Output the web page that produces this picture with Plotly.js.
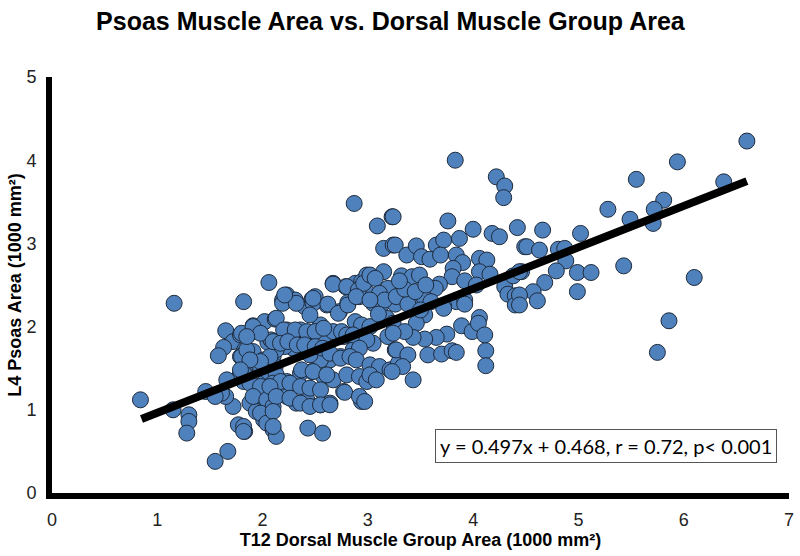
<!DOCTYPE html>
<html>
<head>
<meta charset="utf-8">
<script src="https://cdn.plot.ly/plotly-3.0.1.min.js"></script>
<style>html,body{margin:0;padding:0;background:#fff;}#chart{width:800px;height:556px;}</style>
</head>
<body>
<div id="chart"></div>
<script>
// T12 dorsal muscle group area (1000 mm²)
var dorsalArea = [
0.84,1.16,1.15,1.30,1.30,1.28,1.46,1.55,1.67,
2.06,1.82,2.20,1.65,1.72,1.63,1.58,1.79,1.88,1.91,2.02,2.12,
1.83,1.91,1.79,2.05,2.01,2.10,1.83,1.79,1.66,1.61,1.72,1.65,
1.77,1.83,1.88,1.98,2.05,2.12,2.13,2.01,1.94,2.01,2.05,
1.98,2.05,2.12,2.13,1.82,1.82,1.61,1.55,1.80,1.80,1.85,
2.23,2.31,2.19,2.40,2.47,2.50,2.67,2.79,2.88,2.94,2.99,2.61,2.73,2.89,2.92,3.00,
1.91,2.23,2.36,2.55,2.58,2.43,2.08,1.98,1.85,
2.67,2.77,2.86,2.92,2.74,2.64,2.55,2.45,2.37,2.29,2.21,2.13,2.07,1.98,1.88,1.79,
1.88,1.98,2.10,2.23,2.36,2.47,2.58,2.67,2.80,2.92,2.99,
1.91,2.04,2.10,2.23,2.32,2.42,2.55,2.64,2.77,2.94,
1.98,2.04,2.10,2.13,1.82,1.82,
2.19,2.32,2.48,2.62,2.81,3.05,3.14,3.26,
2.45,2.72,2.88,2.94,3.02,3.18,3.24,2.13,
2.20,2.31,2.42,2.50,2.58,2.75,2.80,2.86,3.05,2.99,2.92,3.19,3.26,
2.10,2.17,2.24,2.33,2.40,2.50,2.57,
2.64,2.74,2.83,2.89,3.02,3.11,3.21,3.29,3.02,3.08,
2.37,2.48,2.61,2.17,2.26,2.36,2.45,2.55,2.07,2.13,
2.26,2.36,2.45,2.55,2.64,2.78,2.92,2.97,
2.10,2.10,2.43,2.57,
2.87,3.09,3.23,3.15,3.24,
2.67,2.80,2.91,2.96,3.02,3.15,3.07,3.19,3.11,3.16,
2.21,2.48,2.81,2.89,3.02,
3.83,4.22,4.30,4.29,3.24,3.76,4.00,4.18,4.25,4.42,4.49,
3.26,3.37,3.46,3.65,3.72,3.87,3.51,3.59,3.69,3.84,3.90,4.06,4.13,
3.81,4.06,4.16,3.32,3.42,3.49,3.80,3.92,3.68,3.64,4.03,4.30,4.38,4.46,
4.33,4.40,4.40,3.27,3.40,3.53,3.84,3.92,3.72,
3.92,3.72,3.54,3.46,3.38,3.89,3.99,4.06,4.05,4.11,4.12,4.12,
3.75,3.65,3.54,3.43,3.35,3.24,3.27,3.38,3.33,3.23,3.57,3.70,3.80,3.84,3.43,
3.35,3.45,3.55,3.30,3.60,3.10,3.50,
6.60,5.94,5.55,6.38,5.81,5.72,5.71,5.28,5.49,5.02,4.66,4.51,4.63,4.81,4.87,4.88,4.79,4.99,5.12,5.43,
4.68,4.57,4.61,4.99,4.44,4.44,4.44,6.10,5.86,5.75
];
// L4 psoas area (1000 mm²)
var psoasArea = [
1.12,2.28,1.00,0.94,0.86,0.72,1.22,0.38,0.50,
2.53,2.30,2.32,1.95,1.82,1.75,1.65,1.90,1.92,2.01,2.06,2.09,
1.72,1.70,1.64,1.81,1.60,1.64,1.46,1.43,1.36,1.18,1.04,1.16,
0.82,0.74,1.08,1.16,1.24,1.18,1.32,1.32,0.98,0.88,0.84,
1.52,1.46,1.52,1.42,1.44,1.34,1.20,1.16,1.92,1.64,1.72,
2.38,2.32,2.32,2.24,2.33,2.36,2.52,2.48,2.52,2.54,2.62,2.26,2.18,2.44,2.36,2.40,
2.00,1.96,1.96,2.02,1.88,1.86,1.84,1.92,1.88,
1.94,1.88,1.72,1.92,1.64,1.60,1.60,1.66,1.72,1.74,1.76,1.72,1.64,1.58,1.60,1.48,
1.32,1.28,1.32,1.34,1.44,1.46,1.40,1.36,1.42,1.40,1.34,
1.16,1.12,1.04,1.16,1.08,1.12,1.06,1.08,1.22,1.10,
0.96,0.84,0.76,0.68,0.80,0.74,
2.28,2.28,2.28,2.27,2.29,2.28,2.28,2.27,
2.14,2.16,2.06,2.02,2.00,2.10,2.04,2.10,
1.96,1.96,1.94,1.94,1.98,1.94,1.90,1.90,1.80,1.84,1.74,1.88,1.72,
1.82,1.80,1.82,1.78,1.78,1.76,1.74,
1.68,1.62,1.64,1.60,1.54,1.52,1.48,1.56,1.42,1.36,
1.48,1.46,1.42,1.34,1.32,1.28,1.26,1.24,1.28,1.16,
1.14,1.08,1.04,1.06,1.06,1.21,1.16,1.10,
0.98,0.80,0.78,0.72,
3.48,3.21,3.32,2.94,2.98,
2.51,2.48,2.44,2.52,2.62,2.66,2.58,2.46,2.40,2.32,
2.38,2.34,2.26,2.36,2.32,
4.00,3.80,3.69,3.55,3.32,3.27,3.17,3.12,3.08,3.19,2.96,
2.98,2.86,2.97,2.98,3.04,3.06,2.84,2.81,2.86,2.86,2.77,2.82,2.80,
2.70,2.66,2.63,2.61,2.60,2.62,2.60,2.55,2.51,2.46,2.50,2.48,2.61,2.66,
2.39,2.37,2.26,2.36,2.30,2.36,2.30,2.32,2.25,
2.27,2.22,2.14,2.04,2.27,2.01,1.94,2.11,2.04,1.90,1.71,1.53,
1.91,1.87,1.85,1.87,1.94,1.92,1.72,1.66,1.52,1.46,1.66,1.67,1.71,1.69,1.36,
2.45,2.42,2.50,2.55,2.30,2.15,2.20,
4.23,3.98,3.77,3.74,3.52,3.41,3.24,3.41,3.29,3.12,3.16,2.96,2.92,2.93,2.94,2.79,2.67,2.65,2.65,2.73,
2.53,2.42,2.31,2.42,2.38,2.26,2.66,2.59,2.07,1.69
];
// Regression fit reported in the chart
var fitSlope = 0.497, fitIntercept = 0.468;
var fitX = [0.85, 6.6];
var fitY = fitX.map(function(v){ return fitSlope * v + fitIntercept; });

var xTicks = [0,1,2,3,4,5,6,7];
var yTicks = [0,1,2,3,4,5];

var sans = '"Liberation Sans", Arial, sans-serif';

var traces = [
  {
    type: 'scatter', mode: 'markers',
    x: dorsalArea, y: psoasArea,
    marker: {size: 16, color: '#4F81BD', line: {color: '#1E2B3C', width: 1}},
    hoverinfo: 'x+y', showlegend: false
  },
  {
    type: 'scatter', mode: 'lines',
    x: fitX, y: fitY,
    line: {color: '#000000', width: 8},
    hoverinfo: 'skip', showlegend: false
  }
];

var layout = {
  width: 800, height: 556,
  margin: {l: 52, r: 11, t: 77, b: 63},
  paper_bgcolor: '#ffffff', plot_bgcolor: '#ffffff',
  title: {
    text: '<b>Psoas Muscle Area vs. Dorsal Muscle Group Area</b>',
    font: {family: sans, size: 25, color: '#000'},
    x: 0.488, xanchor: 'center', xref: 'container', y: 0.962, yanchor: 'middle'
  },
  xaxis: {
    range: [0, 7], tickvals: xTicks, ticktext: xTicks.map(String),
    showgrid: false, zeroline: false,
    showline: true, linecolor: '#000', linewidth: 6,
    ticks: 'outside', ticklen: 5, tickcolor: 'rgba(0,0,0,0)',
    tickfont: {family: sans, size: 18, color: '#222'},
    title: {text: '<b>T12 Dorsal Muscle Group Area (1000 mm²)</b>', font: {family: sans, size: 18, color: '#000'}, standoff: 4}
  },
  yaxis: {
    range: [0, 5], tickvals: yTicks, ticktext: yTicks.map(String),
    showgrid: false, zeroline: false,
    showline: true, linecolor: '#000', linewidth: 6,
    ticks: 'outside', ticklen: 6, tickcolor: 'rgba(0,0,0,0)',
    tickfont: {family: sans, size: 18, color: '#222'},
    title: {text: '<b>L4 Psoas Area (1000 mm²)</b>', font: {family: sans, size: 18, color: '#000'}, standoff: 2}
  },
  annotations: [{
    xref: 'paper', yref: 'paper', x: 0.984, y: 0.113, xanchor: 'right', yanchor: 'middle',
    text: 'y = ' + fitSlope + 'x + ' + fitIntercept + ', r = 0.72, p< 0.001',
    showarrow: false, font: {family: 'Lato, "Open Sans", sans-serif', size: 20, color: '#000'},
    bgcolor: '#ffffff', bordercolor: '#555555', borderwidth: 1, borderpad: 4
  }]
};

Plotly.newPlot('chart', traces, layout, {displayModeBar: false, staticPlot: true});
</script>
</body>
</html>
